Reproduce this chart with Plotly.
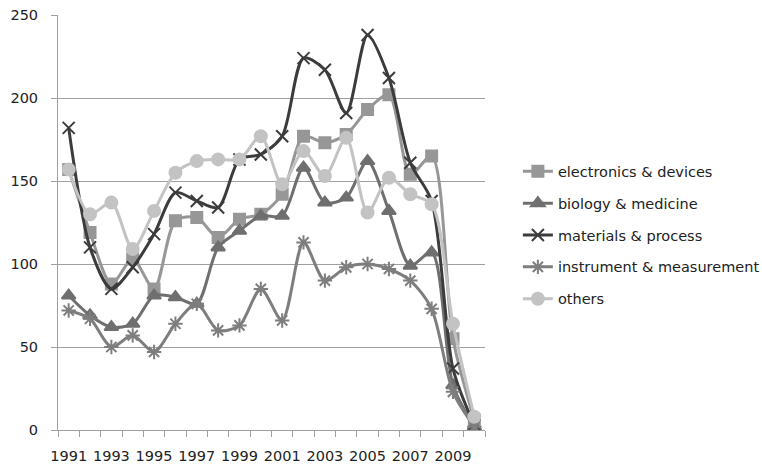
import plotly.graph_objects as go

years = list(range(1991, 2011))

electronics = [157, 119, 88, 103, 85, 126, 128, 116, 127, 130,
               142, 177, 173, 178, 193, 202, 154, 165, 55, 6]
biology = [81, 69, 62, 64, 81, 80, 76, 110, 120, 129,
           129, 158, 137, 140, 162, 132, 99, 107, 27, 2]
materials = [182, 110, 85, 98, 118, 143, 138, 134, 163, 166,
             177, 224, 217, 191, 238, 212, 161, 138, 37, 3]
instrument = [72, 67, 50, 57, 47, 64, 76, 60, 63, 85,
              66, 113, 90, 98, 100, 97, 90, 73, 23, 2]
others = [157, 130, 137, 109, 132, 155, 162, 163, 163, 177,
          148, 168, 153, 176, 131, 152, 142, 136, 64, 8]

series = [
    ("electronics & devices", electronics, "#979797", "square", 11),
    ("biology & medicine", biology, "#6f6f6f", "triangle-up", 12),
    ("materials & process", materials, "#3c3c3c", "x-thin-open", 12),
    ("instrument & measurement", instrument, "#7e7e7e", "asterisk-open", 12),
    ("others", others, "#c3c3c3", "circle", 12),
]

fig = go.Figure()
for i, (name, vals, color, symbol, size) in enumerate(series):
    fig.add_trace(go.Scatter(
        x=years, y=vals, name=name, mode="lines+markers",
        line=dict(color=color, width=3, shape="spline", smoothing=0.8),
        marker=dict(symbol=symbol, size=size, color=color,
                    line=dict(color=color, width=2)),
        legendgroup=f"g{i}",
    ))

grid = "#a0a0a0"
fig.update_layout(
    width=762, height=464,
    margin=dict(l=58, r=277, t=15, b=34, autoexpand=False),
    paper_bgcolor="white", plot_bgcolor="white",
    font=dict(family="DejaVu Sans, sans-serif", size=14.5, color="#222222"),
    showlegend=True,
    legend=dict(x=1.077, xanchor="left", y=0.469, yanchor="middle",
                tracegroupgap=10, font=dict(size=14.5, color="#222222"),
                bgcolor="rgba(0,0,0,0)", itemwidth=30),
    xaxis=dict(
        range=[1990.5, 2010.5], tickmode="array",
        tickvals=list(range(1991, 2011, 2)),
        ticktext=[str(y) for y in range(1991, 2011, 2)],
        ticks="", showgrid=False, zeroline=False, ticklabelstandoff=13,
        showline=True, linecolor=grid, linewidth=1, automargin=False,
        minor=dict(tickmode="array", tickvals=[y + 0.5 for y in range(1990, 2011)],
                   ticks="outside", ticklen=6, tickcolor=grid, showgrid=False),
    ),
    yaxis=dict(
        range=[0, 250], tickmode="array", tickvals=[0, 50, 100, 150, 200, 250],
        ticks="outside", ticklen=6, tickcolor=grid, ticklabelstandoff=10,
        showgrid=True, gridcolor=grid, gridwidth=1, zeroline=False,
        showline=True, linecolor=grid, linewidth=1, automargin=False,
    ),
)

fig.write_html("out.html")
